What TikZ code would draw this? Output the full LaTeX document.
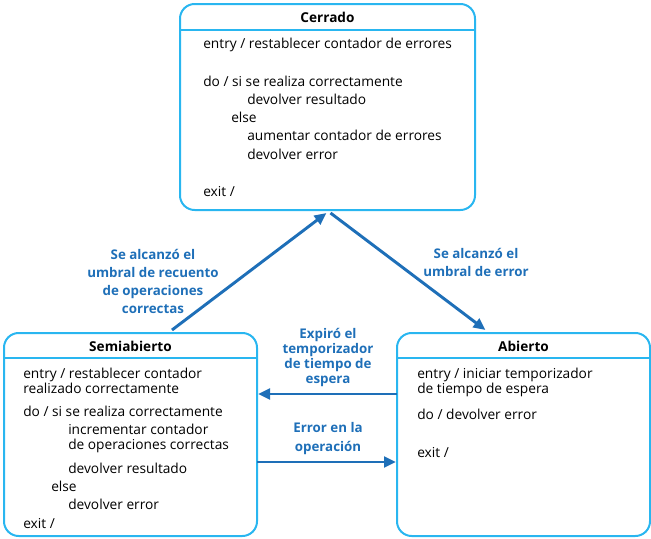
\documentclass[tikz,border=0pt]{standalone}
\usepackage{fontspec}
\setmainfont{Open Sans}
\usetikzlibrary{calc,positioning,arrows.meta}
\definecolor{boxblue}{RGB}{41,182,240}
\definecolor{arrowblue}{RGB}{30,111,184}

\begin{document}
\begin{tikzpicture}[x=0.75pt, y=-0.75pt,
        statebox/.style={draw=boxblue, line width=1.5pt, rounded corners=11pt, inner sep=0pt, outer sep=0pt},
        titletext/.style={font=\bfseries\fontsize{10.2}{12}\selectfont},
        body/.style={anchor=base west, inner sep=0pt, font=\fontsize{10.3}{12}\selectfont},
        trans/.style={arrowblue, line width=2.2pt, -{Triangle[length=9pt,width=8pt]}},
        guard/.style={text=arrowblue, align=center, inner sep=0pt, font=\bfseries\fontsize{10}{13.5}\selectfont}]
        \useasboundingbox (0,0) rectangle (651,539);

        % states
        \node[statebox, minimum width=221.25pt, minimum height=154.5pt] (cerrado) at (327.5,107) {};
        \node[statebox, minimum width=189.75pt, minimum height=152.25pt] (semi) at (130.5,434.5) {};
        \node[statebox, minimum width=189.75pt, minimum height=152.25pt] (abierto) at (523.5,434.5) {};

        % headers
        \node[titletext] (cerrado-t) at (327.5,17) {Cerrado};
        \node[titletext] (semi-t) at (130.5,346) {Semiabierto};
        \node[titletext] (abierto-t) at (523.5,346) {Abierto};
        \draw[boxblue, line width=1.5pt] (cerrado.west |- 0,30) -- (cerrado.east |- 0,30);
        \draw[boxblue, line width=1.5pt] (semi.west |- 0,358) -- (semi.east |- 0,358);
        \draw[boxblue, line width=1.5pt] (abierto.west |- 0,358) -- (abierto.east |- 0,358);

        % activities
        \foreach \x/\y/\t [count=\i] in {203/49/{entry / restablecer contador de errores},
                203/86/{do / si se realiza correctamente}, 247/104/{devolver resultado},
                231/122/{else}, 247/140/{aumentar contador de errores}, 247/159/{devolver error},
                203/196/{exit /}}
            \node[body] (c\i) at (\x,\y) {\t};
        \foreach \x/\y/\t [count=\i] in {23/378/{entry / restablecer contador},
                23/393/{realizado correctamente}, 23/416/{do / si se realiza correctamente},
                68/434/{incrementar contador}, 68/449/{de operaciones correctas},
                68/473/{devolver resultado}, 51/491/{else}, 68/509/{devolver error}, 23/528/{exit /}}
            \node[body] (s\i) at (\x,\y) {\t};
        \foreach \x/\y/\t [count=\i] in {417/378/{entry / iniciar temporizador},
                417/393/{de tiempo de espera}, 417/419/{do / devolver error}, 417/457/{exit /}}
            \node[body] (a\i) at (\x,\y) {\t};

        % transitions
        \draw[trans] ($(semi.north)+(41.5,-3)$) -- ($(cerrado.south)+(-1,3)$);
        \draw[trans] ($(cerrado.south)+(3,3)$) -- ($(abierto.north)+(-38,-3)$);
        \draw[trans] ($(abierto.west)+(0,-40.5)$) -- ($(semi.east)+(1,-40.5)$);
        \draw[trans] ($(semi.east)+(0,27.5)$) -- ($(abierto.west)+(-1,27.5)$);

        \node[guard] (g1) at (153,281.5) {Se alcanzó el\\umbral de recuento\\de operaciones\\correctas};
        \node[guard] (g2) at (476,262.5) {Se alcanzó el\\umbral de error};
        \node[guard, font=\bfseries\fontsize{10}{11.25}\selectfont] (g3) at (328,357.5) {Expiró el\\temporizador\\de tiempo de\\espera};
        \node[guard, font=\bfseries\fontsize{10}{14}\selectfont] (g4) at (328,438.5) {Error en la\\operación};

    \end{tikzpicture}
\end{document}
